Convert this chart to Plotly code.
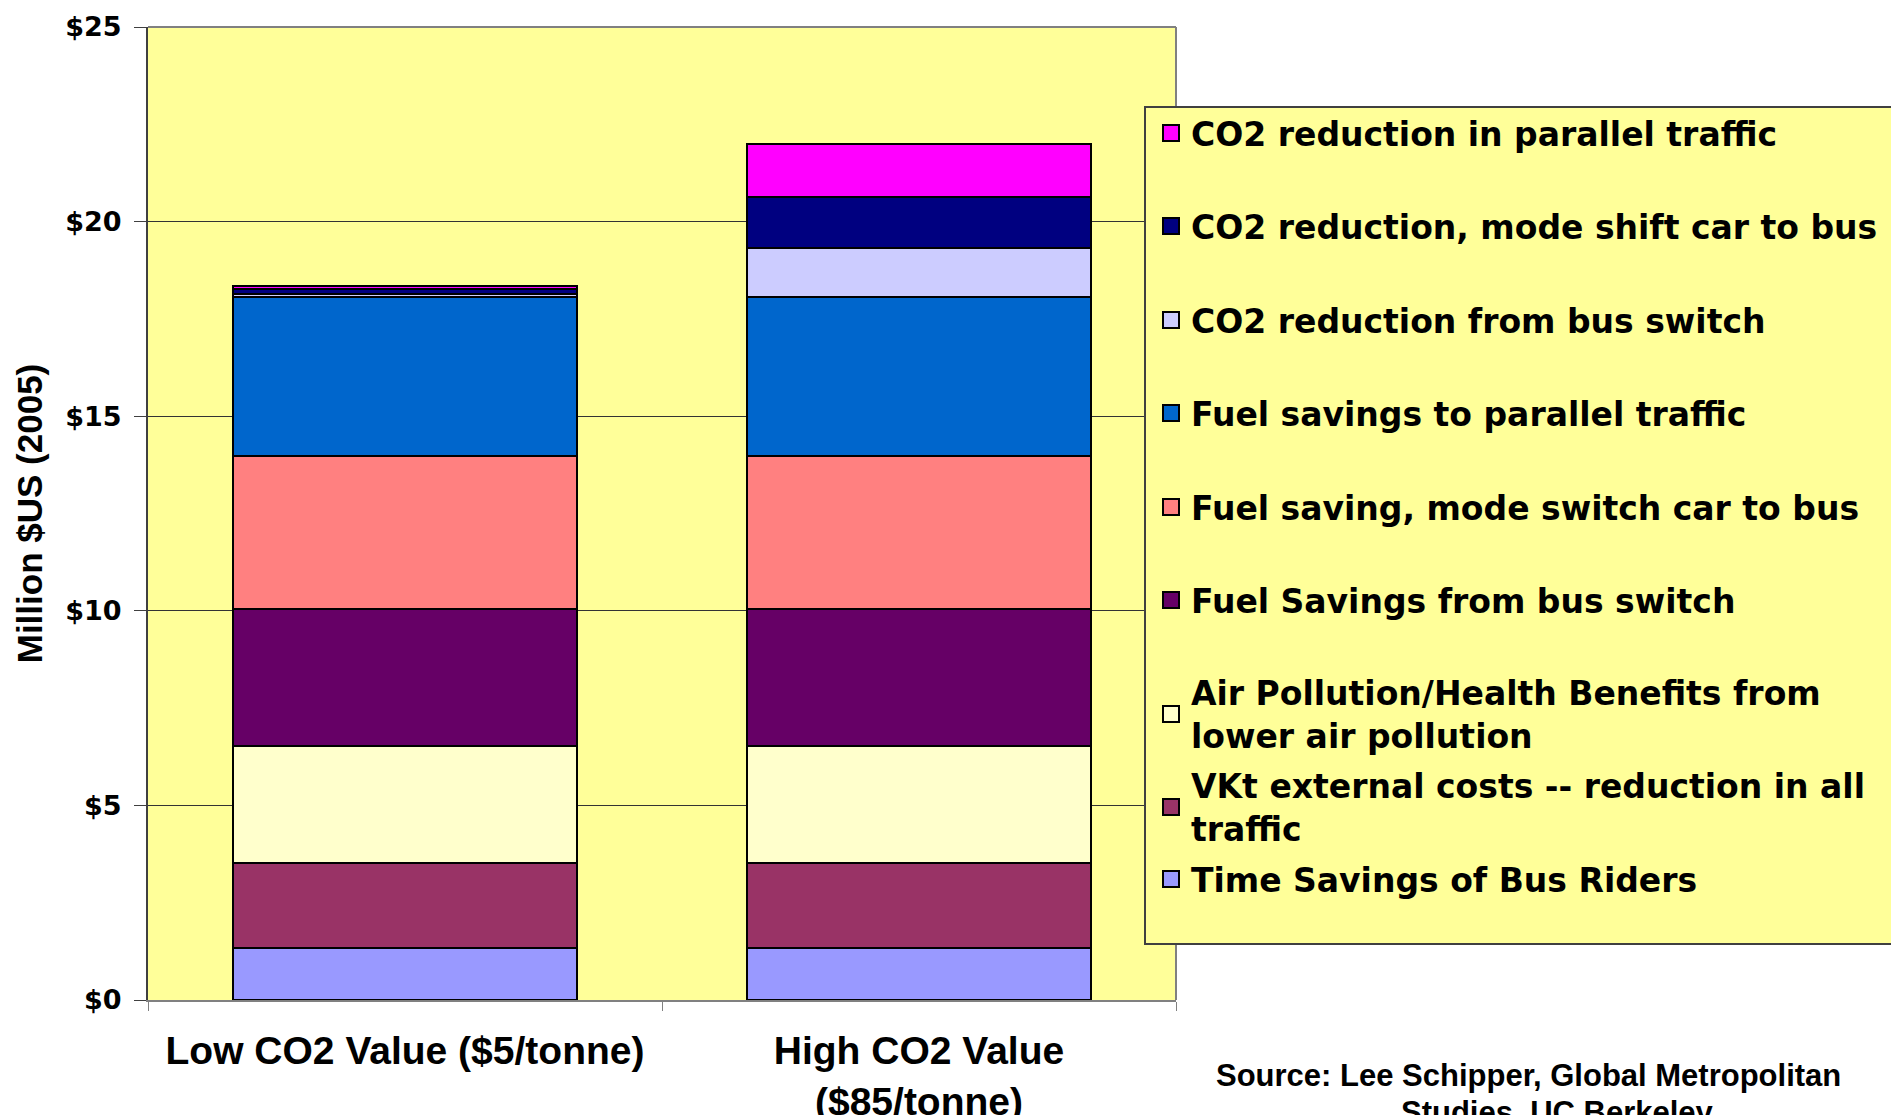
import plotly.graph_objects as go

# ---------------- data ----------------
categories = ["Low CO2 Value ($5/tonne)", "High CO2 Value<br>($85/tonne)"]

series_names = [
    "Time Savings of Bus Riders",
    "VKt external costs -- reduction in all<br>traffic",
    "Air Pollution/Health Benefits from<br>lower air pollution",
    "Fuel Savings from bus switch",
    "Fuel saving, mode switch car to bus",
    "Fuel savings to parallel traffic",
    "CO2 reduction from bus switch",
    "CO2 reduction, mode shift car to bus",
    "CO2 reduction in parallel traffic",
]
time_savings = [1.33, 1.33]
vkt_external = [2.19, 2.19]
air_pollution = [3.00, 3.00]
fuel_bus_switch = [3.53, 3.53]
fuel_mode_switch = [3.93, 3.93]
fuel_parallel = [4.09, 4.09]
co2_bus_switch = [0.07, 1.24]
co2_mode_shift = [0.13, 1.32]
co2_parallel = [0.08, 1.37]
series_values = [time_savings, vkt_external, air_pollution, fuel_bus_switch,
                 fuel_mode_switch, fuel_parallel, co2_bus_switch, co2_mode_shift,
                 co2_parallel]
series_colors = ["#9999FF", "#993366", "#FFFFCC", "#660066", "#FF8080",
                 "#0066CC", "#CCCCFF", "#000080", "#FF00FF"]

y_tick_vals = [0, 5, 10, 15, 20, 25]
y_tick_text = ["$0", "$5", "$10", "$15", "$20", "$25"]

# ---------------- layout constants ----------------
W, H = 1891, 1115
ML, MR, MT, MB = 148, 715, 27, 115
PLOT_W = W - ML - MR
PLOT_H = H - MT - MB

def px_to_paper_y(py):
    return (H - MB - py) / PLOT_H

def px_to_paper_x(px):
    return (px - ML) / PLOT_W

# legend row centres (pixels from top), in the order of series_names
legend_rows_px = [879, 807, 714, 600, 507, 413, 320, 226, 133]
legend_left_px = 1151

fig = go.Figure()

for i, (name, vals, col) in enumerate(zip(series_names, series_values, series_colors)):
    fig.add_trace(go.Bar(
        x=categories, y=vals, name=name.replace("<br>", " "),
        marker=dict(color=col, line=dict(color="black", width=2)),
        showlegend=False,
    ))

leg_font = dict(family="DejaVu Sans", size=33, color="black", weight="bold")
layout_legends = {}
for i, (name, col) in enumerate(zip(series_names, series_colors)):
    key = "legend" if i == 0 else f"legend{i + 1}"
    fig.add_trace(go.Scatter(
        x=[None], y=[None], mode="markers", name=name,
        marker=dict(symbol="square", size=16, color=col,
                    line=dict(color="black", width=2)),
        legend=key, showlegend=True, hoverinfo="skip",
    ))
    layout_legends[key] = dict(
        x=px_to_paper_x(legend_left_px), xanchor="left",
        y=px_to_paper_y(legend_rows_px[i]), yanchor="middle",
        bgcolor="rgba(0,0,0,0)", borderwidth=0, font=leg_font,
        itemclick=False, itemdoubleclick=False,
    )

fig.update_layout(
    width=W, height=H, autosize=False,
    margin=dict(l=ML, r=MR, t=MT, b=MB, pad=0, autoexpand=False),
    barmode="stack", bargap=0.33,
    plot_bgcolor="#FFFF99", paper_bgcolor="white",
    font=dict(family="Liberation Sans", color="black"),
    **layout_legends,
)

fig.update_xaxes(
    type="category", showgrid=False, zeroline=False, automargin=False,
    showline=True, linecolor="#808080", linewidth=2,
    ticks="outside", tickson="boundaries", ticklen=9, tickcolor="#808080",
    tickfont=dict(family="Liberation Sans", size=39, color="black", weight="bold"),
    ticklabelstandoff=15,
)
fig.update_yaxes(
    range=[0, 25], tickvals=y_tick_vals, ticktext=y_tick_text, automargin=False,
    showgrid=True, gridcolor="#333333", gridwidth=1, zeroline=False,
    showline=True, linecolor="#404040", linewidth=2,
    ticks="outside", ticklen=12, tickcolor="#404040",
    tickfont=dict(family="DejaVu Sans", size=27, color="black", weight="bold"),
    ticklabelstandoff=7,
    title=dict(text="Million $US (2005)", standoff=12,
               font=dict(family="Liberation Sans", size=35, color="black", weight="bold")),
)

# plot-area border (top and right) and legend box
fig.add_shape(type="line", xref="paper", yref="paper", x0=0, x1=1, y0=1, y1=1,
              line=dict(color="#808080", width=2), layer="above")
fig.add_shape(type="line", xref="paper", yref="paper", x0=1, x1=1, y0=0, y1=1,
              line=dict(color="#808080", width=2), layer="above")
fig.add_shape(type="rect", xref="paper", yref="paper",
              x0=px_to_paper_x(1145), x1=px_to_paper_x(1905),
              y0=px_to_paper_y(944), y1=px_to_paper_y(107),
              fillcolor="#FFFF99", line=dict(color="#404040", width=2), layer="above")

src_font = dict(family="Liberation Sans", size=31, color="black", weight="bold")
fig.add_annotation(text="Source: Lee Schipper, Global Metropolitan", xref="paper", yref="paper",
                   x=px_to_paper_x(1528), y=px_to_paper_y(1075), xanchor="center", yanchor="middle",
                   showarrow=False, font=src_font)
fig.add_annotation(text="Studies, UC Berkeley", xref="paper", yref="paper",
                   x=px_to_paper_x(1557), y=px_to_paper_y(1112), xanchor="center", yanchor="middle",
                   showarrow=False, font=src_font)

fig.write_html("out.html", config={"displayModeBar": False},
               post_script="document.body.style.margin='0';document.body.style.overflow='hidden';")
